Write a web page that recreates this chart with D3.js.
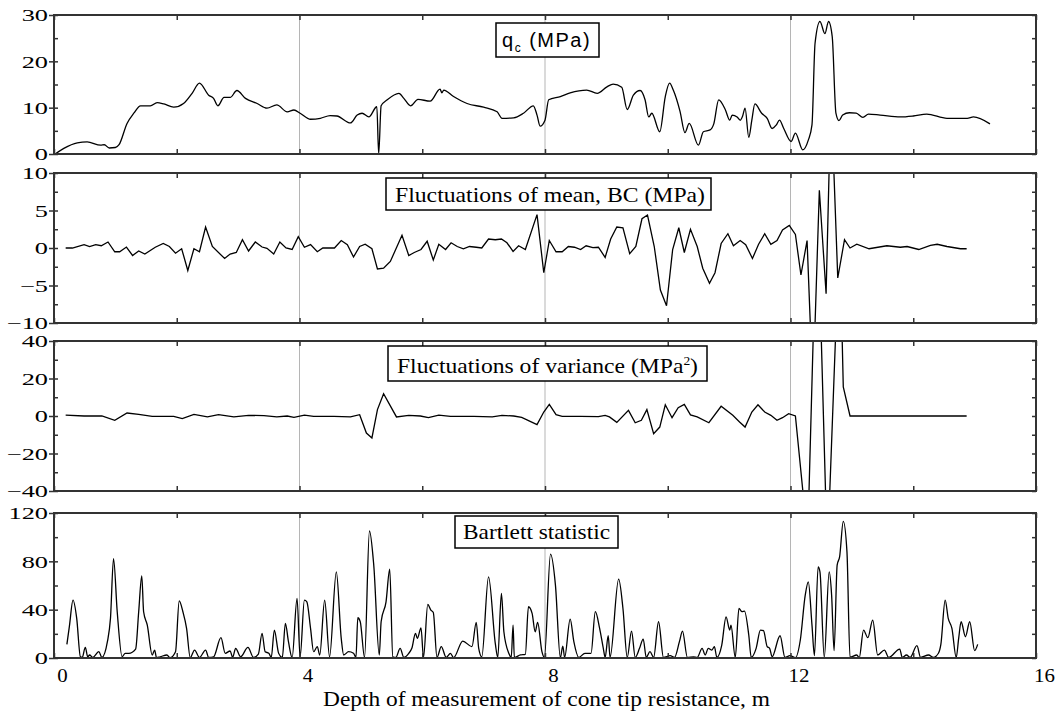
<!DOCTYPE html>
<html>
<head>
<meta charset="utf-8">
<script src="https://cdn.jsdelivr.net/npm/d3@7"></script>
<style>
  body { margin: 0; background: #fff; }
  svg text { font-family: "Liberation Serif", "Times New Roman", serif; fill: #000; }
  .frame { fill: none; stroke: #333; stroke-width: 2; }
  .grid { stroke: #b5b5b5; stroke-width: 1; }
  .trace { fill: none; stroke: #000; stroke-width: 1.3; }
  .axis path { display: none; }
  .axis line { stroke: #333; stroke-width: 1.5; }
</style>
</head>
<body>
<svg id="chart" width="1061" height="716"></svg>
<script>
// ---- data: [depth m, value] ----
var qcData = [[0.02,0],[0.16,1.2],[0.38,2.4],[0.54,2.6],[0.76,1.9],[0.82,2.0],[0.9,1.3],[1.0,1.4],[1.06,2.0],[1.19,6.6],[1.3,8.8],[1.41,10.4],[1.57,10.4],[1.68,11.1],[1.79,10.8],[1.95,10.1],[2.11,10.9],[2.25,13.1],[2.37,15.3],[2.52,12.7],[2.6,12.0],[2.67,10.4],[2.77,12.2],[2.87,12.2],[2.98,13.7],[3.12,12.0],[3.31,10.9],[3.47,9.9],[3.63,10.6],[3.8,9.1],[3.91,9.5],[4.01,8.8],[4.18,7.5],[4.34,7.7],[4.5,8.3],[4.61,8.2],[4.83,6.7],[4.94,8.4],[5.02,8.8],[5.13,8.0],[5.26,10.2],[5.29,0],[5.33,10.4],[5.43,11.7],[5.62,13.1],[5.7,12.0],[5.81,10.4],[5.93,11.8],[6.13,11.4],[6.29,14.0],[6.32,13.2],[6.35,13.8],[6.51,12.4],[6.73,10.9],[7.0,10.1],[7.22,9.1],[7.3,7.7],[7.49,7.8],[7.65,8.8],[7.81,10.4],[7.87,8.4],[7.92,6.0],[8.0,7.3],[8.06,11.7],[8.25,12.4],[8.41,13.2],[8.68,13.8],[8.85,13.1],[9.01,14.5],[9.11,15.1],[9.25,14.4],[9.34,9.6],[9.44,12.7],[9.55,13.7],[9.63,11.7],[9.69,8.0],[9.74,8.8],[9.87,4.8],[9.96,12.4],[10.03,15.3],[10.09,13.8],[10.2,9.2],[10.28,4.6],[10.35,6.6],[10.5,1.9],[10.58,4.8],[10.69,5.2],[10.75,6.5],[10.83,11.7],[10.94,9.5],[11.01,7.3],[11.05,8.4],[11.13,8.0],[11.18,7.3],[11.22,8.2],[11.26,9.9],[11.32,3.6],[11.37,7.3],[11.42,10.8],[11.53,8.8],[11.62,7.7],[11.7,5.5],[11.77,6.3],[11.82,7.3],[11.89,5.5],[12.01,2.7],[12.08,4.5],[12.2,0.9],[12.29,3.0],[12.35,6.3],[12.4,23.9],[12.48,28.6],[12.56,26.0],[12.62,28.6],[12.68,25.3],[12.74,8.8],[12.79,7.2],[12.85,8.4],[12.96,8.9],[13.07,8.8],[13.18,7.9],[13.27,8.6],[13.46,8.4],[13.79,8.0],[14.0,8.2],[14.22,8.6],[14.55,7.7],[14.88,7.7],[14.98,8.0],[15.25,6.5]];

var meanData = [[0.19,0],[0.3,0],[0.49,0.45],[0.58,0.2],[0.68,0.45],[0.77,0.3],[0.88,0.8],[0.99,-0.5],[1.07,-0.5],[1.18,0.13],[1.28,-1.0],[1.38,-0.4],[1.48,-0.8],[1.65,0.1],[1.78,0.6],[1.88,0.2],[1.98,-0.7],[2.08,-0.1],[2.18,-3.0],[2.28,-0.1],[2.37,-0.5],[2.47,2.8],[2.58,0.2],[2.78,-1.4],[2.87,-0.8],[2.97,-0.6],[3.07,1.1],[3.17,-0.4],[3.28,0.8],[3.39,0.13],[3.47,-0.05],[3.58,-0.8],[3.68,0.8],[3.78,0],[3.88,-0.2],[3.98,1.5],[4.08,0.1],[4.18,0.45],[4.29,-0.5],[4.38,0],[4.57,0],[4.68,1.0],[4.78,0.45],[4.88,-1.2],[4.98,0.2],[5.07,0.5],[5.18,-0.1],[5.27,-2.8],[5.37,-2.7],[5.48,-1.8],[5.67,1.7],[5.78,-1.0],[5.87,-0.6],[5.98,-0.2],[6.08,0.9],[6.18,-1.6],[6.27,0.5],[6.38,-0.2],[6.47,0.7],[6.57,0.2],[6.67,-0.1],[6.77,0.2],[6.88,0.1],[6.97,0],[7.08,1.2],[7.19,1.1],[7.29,1.2],[7.38,0.7],[7.48,-0.45],[7.57,0.3],[7.68,-0.2],[7.87,4.45],[7.98,-3.3],[8.07,1.0],[8.18,-0.5],[8.28,-0.5],[8.38,0.2],[8.48,0.1],[8.58,-0.2],[8.67,0.3],[8.78,0.05],[8.87,0.1],[8.98,-1.25],[9.07,1.2],[9.17,2.8],[9.27,2.7],[9.38,-0.75],[9.48,0.2],[9.58,3.9],[9.67,4.4],[9.78,0.2],[9.88,-5.6],[9.98,-7.7],[10.08,-0.2],[10.18,2.7],[10.27,-0.6],[10.37,2.5],[10.48,0.2],[10.57,-2.7],[10.68,-4.7],[10.77,-3.3],[10.87,0.6],[10.98,1.9],[11.07,0.3],[11.18,1.0],[11.27,0.45],[11.38,-1.4],[11.48,0.5],[11.58,1.9],[11.68,0.5],[11.78,1.0],[11.87,2.4],[11.98,3.0],[12.08,1.8],[12.17,-3.6],[12.27,1.0],[12.365,-19],[12.47,7.7],[12.58,-6.1],[12.66,20.7],[12.77,-4.0],[12.88,1.1],[12.97,0],[13.08,0.5],[13.28,-0.1],[13.57,0.3],[13.79,0.1],[13.9,0.2],[14.09,-0.2],[14.28,0.35],[14.39,0.5],[14.55,0.2],[14.77,-0.1],[14.87,-0.1]];

var varianceData = [[0.19,0.5],[0.49,0],[0.78,0],[0.99,-2.3],[1.19,1.6],[1.38,0.9],[1.6,-0.2],[1.95,-0.2],[2.09,-1.4],[2.28,0.9],[2.5,-0.5],[2.68,0.7],[2.93,-0.5],[3.17,0.35],[3.42,0.2],[3.63,-0.5],[3.8,0],[3.91,-0.7],[4.08,0.5],[4.23,-0.2],[4.56,-0.2],[4.83,-0.5],[4.98,0.7],[5.09,-9.1],[5.18,-11.7],[5.27,3.4],[5.37,11.9],[5.58,-0.5],[5.78,0.35],[5.97,0],[6.1,-0.9],[6.27,0.5],[6.46,-0.2],[6.84,-0.2],[7.14,-0.5],[7.3,0.35],[7.49,0],[7.62,-0.7],[7.87,-4.6],[7.98,2.1],[8.07,6.2],[8.18,0.7],[8.28,-0.2],[8.58,-0.2],[8.87,-0.35],[8.98,0.35],[9.05,-0.5],[9.17,-3.4],[9.36,3.0],[9.47,-3.6],[9.57,-2.3],[9.66,3.4],[9.77,-9.4],[9.87,-5.9],[9.96,6.0],[10.07,-0.9],[10.17,4.4],[10.27,6.2],[10.37,0.6],[10.48,-0.5],[10.67,-3.6],[10.87,5.2],[11.06,0.35],[11.17,-3.2],[11.26,-5.9],[11.37,2.1],[11.47,6.0],[11.58,2.1],[11.68,0.35],[11.78,-2.3],[11.87,-0.9],[11.97,1.2],[12.08,0],[12.28,-66],[12.435,120],[12.6,-75],[12.8,100],[12.86,15.5],[12.97,0],[14.87,0]];

var bartlettData = [[0.21,11.3],[0.25,25.9],[0.31,47.9],[0.37,32.8],[0.43,1],[0.46,0.5],[0.51,8.8],[0.55,1],[0.58,2.5],[0.63,0.5],[0.73,5.2],[0.78,0.5],[0.87,13.5],[0.92,32.8],[0.97,82.3],[1.03,38.3],[1.11,1],[1.16,3.9],[1.22,3.9],[1.33,7.4],[1.38,38.3],[1.43,68],[1.46,38.3],[1.52,27.2],[1.6,2.5],[1.64,6.6],[1.67,0.3],[1.73,1],[1.84,2.5],[1.89,0.3],[1.98,5.2],[2.04,47.3],[2.1,38.3],[2.16,24.5],[2.22,0.3],[2.29,6.6],[2.37,0.5],[2.47,6.6],[2.52,0.5],[2.6,1],[2.72,16.8],[2.79,3.9],[2.87,5.8],[2.91,0.5],[2.96,8],[3.04,1],[3.16,8.8],[3.25,0.5],[3.33,3.3],[3.39,20.4],[3.44,5.2],[3.5,3.9],[3.54,0.5],[3.59,23.1],[3.66,3.9],[3.72,0.5],[3.77,28.6],[3.82,13.5],[3.88,0.3],[3.96,49.3],[4.01,1],[4.08,47.9],[4.12,46.5],[4.18,24.5],[4.23,5.2],[4.29,9.4],[4.33,2.5],[4.41,47.9],[4.49,1],[4.6,71.3],[4.68,16.2],[4.72,2.5],[4.8,5.2],[4.88,3.9],[4.92,0.5],[4.95,33.3],[4.99,30],[5.06,0.5],[5.14,105.1],[5.21,76.8],[5.3,2.5],[5.33,30],[5.41,46.5],[5.47,73.5],[5.52,1],[5.57,0.5],[5.64,8],[5.7,0.5],[5.78,3.9],[5.83,8],[5.89,20.4],[5.92,16.2],[5.98,25],[6.02,0.5],[6.09,44.3],[6.14,39.6],[6.18,37.7],[6.24,0.5],[6.31,9.4],[6.39,0.5],[6.46,3.9],[6.51,0.3],[6.66,14],[6.81,9.4],[6.88,29.5],[6.92,8],[6.97,1],[7.08,67.2],[7.19,12.1],[7.23,0.5],[7.29,53.4],[7.33,21.7],[7.41,3.9],[7.45,0.5],[7.48,27.2],[7.5,0.5],[7.6,2.5],[7.68,3],[7.73,42.4],[7.79,36.9],[7.84,21.7],[7.88,29.5],[7.95,5.2],[7.99,0.3],[8.09,85.9],[8.17,60.3],[8.25,0.3],[8.29,9.9],[8.32,0.5],[8.41,32.2],[8.47,13.5],[8.55,0.5],[8.65,3.9],[8.75,3.9],[8.82,38.3],[8.89,24.5],[8.95,8],[8.98,0.5],[9.03,18.4],[9.06,0.5],[9.2,65.2],[9.27,41],[9.34,0.5],[9.41,22.3],[9.47,0.5],[9.54,8],[9.6,15.7],[9.65,0.5],[9.71,5.2],[9.77,0.5],[9.85,30],[9.93,0.5],[10.04,1.9],[10.11,0.5],[10.19,13.5],[10.24,22.3],[10.32,0.5],[10.42,1],[10.48,0.5],[10.56,8],[10.61,2.5],[10.66,8],[10.72,6.6],[10.76,9.4],[10.8,0.5],[10.88,10.7],[10.95,34.1],[11.01,23.1],[11.03,27.2],[11.1,0.5],[11.16,41],[11.21,38.3],[11.25,38.8],[11.32,19],[11.36,0.5],[11.44,8],[11.51,23.1],[11.56,22.6],[11.62,9.4],[11.66,8],[11.7,1],[11.83,18.4],[11.91,0.5],[11.99,1.9],[12.08,0.3],[12.16,14.9],[12.24,52],[12.29,63],[12.35,27.2],[12.39,1.9],[12.45,75.4],[12.48,71.3],[12.55,0.5],[12.63,71.3],[12.67,52],[12.71,6.1],[12.76,76.8],[12.8,83.7],[12.86,113.1],[12.92,87.8],[12.97,0.5],[13.08,2.5],[13.12,0.3],[13.19,23.1],[13.26,16.8],[13.34,31.4],[13.42,2.5],[13.53,6.6],[13.6,0.5],[13.78,7.4],[13.82,0.5],[13.89,2.5],[13.95,0.5],[14.06,10.2],[14.12,0.5],[14.25,2.5],[14.33,0.5],[14.41,3.9],[14.45,11.3],[14.52,47.9],[14.57,32.8],[14.63,24.5],[14.7,0.5],[14.74,16.2],[14.78,30],[14.85,17.6],[14.92,30],[15.0,6.1],[15.05,11.3]];

var depthLabels = [0, 4, 8, 12, 16];
var depthMinor = [0, 2, 4, 6, 8, 10, 12, 14, 16];
var gridDepths = [4, 8, 12];
var xTitle = "Depth of measurement of cone tip resistance, m";

var serif = "'Liberation Serif', 'Times New Roman', serif";
var svg = d3.select("#chart");
var x = d3.scaleLinear().domain([0, 16]).range([54, 1036]);

var panels = [
  { data: qcData, domain: [0, 30], labels: [0, 10, 20, 30], minor: d3.range(0, 31, 5),
    top: 15, bottom: 154, curve: d3.curveMonotoneX },
  { data: meanData, domain: [-10, 10], labels: [-10, -5, 0, 5, 10], minor: d3.range(-10, 10.1, 2.5),
    top: 173, bottom: 323, curve: d3.curveLinear },
  { data: varianceData, domain: [-40, 40], labels: [-40, -20, 0, 20, 40], minor: d3.range(-40, 41, 10),
    top: 341, bottom: 491, curve: d3.curveLinear },
  { data: bartlettData, domain: [0, 120], labels: [0, 40, 80, 120], minor: d3.range(0, 121, 20),
    top: 513, bottom: 658, curve: d3.curveMonotoneX }
];

panels.forEach(function(p, i) {
  var y = d3.scaleLinear().domain(p.domain).range([p.bottom, p.top]);
  var g = svg.append("g");

  g.append("clipPath").attr("id", "clip" + i)
    .append("rect")
    .attr("x", x(0)).attr("y", p.top)
    .attr("width", x(16) - x(0)).attr("height", p.bottom - p.top);

  // light vertical grid
  g.selectAll("line.grid").data(gridDepths).enter()
    .append("line").attr("class", "grid")
    .attr("x1", function(d) { return x(d); }).attr("x2", function(d) { return x(d); })
    .attr("y1", p.top).attr("y2", p.bottom);

  var line = d3.line()
    .x(function(d) { return x(d[0]); })
    .y(function(d) { return y(d[1]); })
    .curve(p.curve);

  g.append("path").datum(p.data)
    .attr("class", "trace")
    .attr("clip-path", "url(#clip" + i + ")")
    .attr("d", line);

  // ticks: inward minor on both sides, outward at labels
  g.append("g").attr("class", "axis").attr("transform", "translate(" + x(0) + ",0)")
    .call(d3.axisLeft(y).tickValues(p.minor).tickSize(-4).tickFormat(""));
  g.append("g").attr("class", "axis").attr("transform", "translate(" + x(16) + ",0)")
    .call(d3.axisRight(y).tickValues(p.minor).tickSize(-4).tickFormat(""));
  var yl = g.append("g").attr("class", "axis").attr("transform", "translate(" + x(0) + ",0)")
    .call(d3.axisLeft(y).tickValues(p.labels).tickSize(5).tickFormat(d3.format("d")));
  yl.attr("font-family", serif);
  yl.selectAll("text")
    .attr("x", -6 / 1.55)
    .attr("dy", "0.34em")
    .attr("transform", "scale(1.55,1)")
    .style("font-family", serif)
    .style("font-size", "17px");

  g.append("g").attr("class", "axis").attr("transform", "translate(0," + p.bottom + ")")
    .call(d3.axisBottom(x).tickValues(depthMinor).tickSize(-5).tickFormat(""));
  g.append("g").attr("class", "axis").attr("transform", "translate(0," + p.top + ")")
    .call(d3.axisTop(x).tickValues(depthMinor).tickSize(-5).tickFormat(""));

  g.append("rect").attr("class", "frame")
    .attr("x", x(0)).attr("y", p.top)
    .attr("width", x(16) - x(0)).attr("height", p.bottom - p.top);

  if (i === panels.length - 1) {
    var xl = g.append("g").attr("class", "axis").attr("transform", "translate(0," + p.bottom + ")")
      .call(d3.axisBottom(x).tickValues(depthLabels).tickSize(0).tickFormat(d3.format("d")));
    xl.attr("font-family", serif);
    xl.selectAll("text")
      .attr("y", 24).attr("dy", 0).attr("dx", 8)
      .attr("transform", "scale(1.1,1)")
      .attr("x", 0)
      .style("font-family", serif)
      .style("font-size", "19px");
    // keep centres on ticks after the horizontal stretch
    xl.selectAll("text").attr("dx", 8 / 1.1);
  }
});

// panel titles in boxes
var boxes = [
  { x: 496, y: 23, w: 103, h: 34 },
  { x: 386, y: 178, w: 325, h: 32 },
  { x: 388, y: 346, w: 319, h: 35 },
  { x: 455, y: 516, w: 163, h: 32 }
];
boxes.forEach(function(b) {
  svg.append("rect")
    .attr("x", b.x).attr("y", b.y).attr("width", b.w).attr("height", b.h)
    .attr("fill", "#fff").attr("stroke", "#000").attr("stroke-width", 1.5);
});

var t1 = svg.append("text")
  .attr("x", 502).attr("y", 46.5)
  .style("font-family", "'Liberation Sans', Arial, sans-serif")
  .style("font-size", "20px").style("letter-spacing", "1.5px");
t1.append("tspan").text("q");
t1.append("tspan").attr("dy", 5).style("font-size", "12px").text("c");
t1.append("tspan").attr("dy", -5).text(" (MPa)");

svg.append("text")
  .attr("x", 395).attr("y", 201.5)
  .attr("textLength", 310).attr("lengthAdjust", "spacingAndGlyphs")
  .style("font-size", "21px")
  .text("Fluctuations of mean, BC (MPa)");

var t3 = svg.append("text")
  .attr("x", 397).attr("y", 373)
  .attr("textLength", 301).attr("lengthAdjust", "spacingAndGlyphs")
  .style("font-size", "21px");
t3.append("tspan").text("Fluctuations of variance (MPa");
t3.append("tspan").attr("dy", -8).style("font-size", "12px").text("2");
t3.append("tspan").attr("dy", 8).text(")");

svg.append("text")
  .attr("x", 463).attr("y", 539)
  .attr("textLength", 147).attr("lengthAdjust", "spacingAndGlyphs")
  .style("font-size", "21px")
  .text("Bartlett statistic");

svg.append("text")
  .attr("x", 323).attr("y", 706)
  .attr("textLength", 447).attr("lengthAdjust", "spacingAndGlyphs")
  .style("font-size", "20px")
  .text(xTitle);
</script>
</body>
</html>
